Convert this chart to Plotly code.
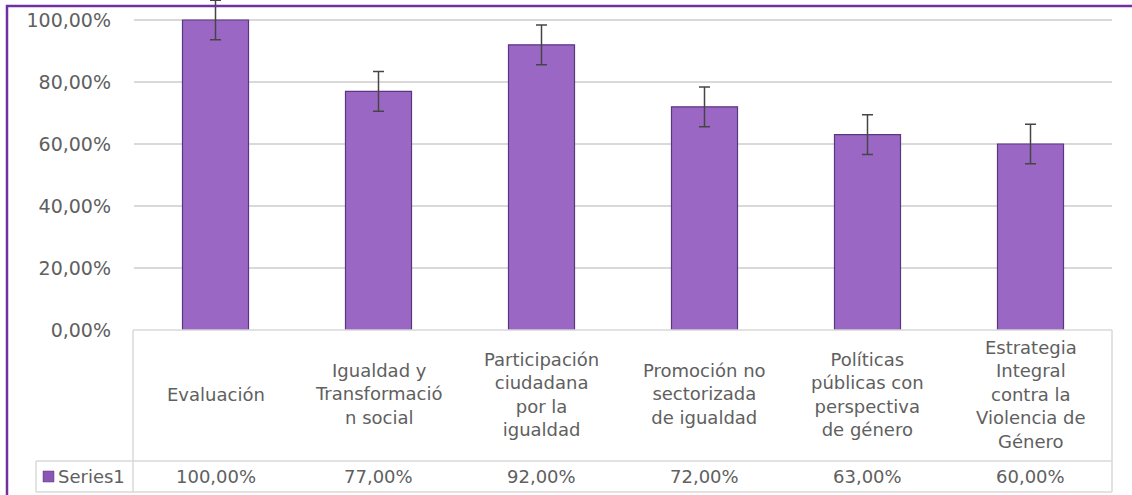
import plotly.graph_objects as go

categories = ["Evaluación", "Igualdad y<br>Transformació<br>n social", "Participación<br>ciudadana<br>por la<br>igualdad",
              "Promoción no<br>sectorizada<br>de igualdad", "Políticas<br>públicas con<br>perspectiva<br>de género",
              "Estrategia<br>Integral<br>contra la<br>Violencia de<br>Género"]
values = [100.0, 77.0, 92.0, 72.0, 63.0, 60.0]
errors = [6.4, 6.4, 6.4, 6.4, 6.4, 6.4]
value_labels = ["100,00%", "77,00%", "92,00%", "72,00%", "63,00%", "60,00%"]
tick_vals = [0, 20, 40, 60, 80, 100]
tick_text = ["0,00%", "20,00%", "40,00%", "60,00%", "80,00%", "100,00%"]
series_name = "Series1"

W, H = 1132, 495
L, R, T, B = 134, 20, 0, 165
pw = W - L - R
ph = H - T - B

def px_x(x):
    return (x - L) / pw

def px_y(y):
    return (H - B - y) / ph

FONT = "DejaVu Sans"
GRAY = "#606060"
LINE = "#d9d9d9"

fig = go.Figure()
fig.add_trace(go.Bar(
    x=list(range(len(values))), y=values, width=0.405,
    marker=dict(color="#9a68c4", line=dict(color="#5a3680", width=1.2)),
    error_y=dict(type="data", array=errors, visible=True, color="#454545", thickness=1.5, width=5.5),
    showlegend=False, hoverinfo="skip",
))

shapes = []
def hline(x0, x1, y):
    shapes.append(dict(type="line", xref="paper", yref="paper", x0=px_x(x0), x1=px_x(x1), y0=px_y(y), y1=px_y(y),
                       line=dict(color=LINE, width=1.5), layer="above"))
def vline(x, y0, y1):
    shapes.append(dict(type="line", xref="paper", yref="paper", x0=px_x(x), x1=px_x(x), y0=px_y(y0), y1=px_y(y1),
                       line=dict(color=LINE, width=1.5), layer="above"))

hline(133, 1112, 330)
hline(36, 1112, 461)
hline(36, 1112, 492)
vline(133, 330, 492)
vline(1112, 330, 492)
vline(36, 461, 492)

# purple frame
shapes.append(dict(type="line", xref="paper", yref="paper", x0=px_x(7), x1=px_x(7), y0=px_y(5), y1=px_y(500),
                   line=dict(color="#7030a0", width=2.5)))
shapes.append(dict(type="line", xref="paper", yref="paper", x0=px_x(6), x1=px_x(1140), y0=px_y(6), y1=px_y(6),
                   line=dict(color="#7030a0", width=2.5)))
# legend key square
shapes.append(dict(type="rect", xref="paper", yref="paper", x0=px_x(43), x1=px_x(54), y0=px_y(471), y1=px_y(482),
                   fillcolor="#8a55b3", line=dict(color="#5a3680", width=0.5)))

annotations = []
for i, (c, v) in enumerate(zip(categories, value_labels)):
    annotations.append(dict(x=i, xref="x", y=px_y(394), yref="paper", text=c, showarrow=False,
                            font=dict(family=FONT, size=18, color=GRAY), align="center",
                            xanchor="center", yanchor="middle"))
    annotations.append(dict(x=i, xref="x", y=px_y(477), yref="paper", text=v, showarrow=False,
                            font=dict(family=FONT, size=18, color=GRAY), xanchor="center", yanchor="middle"))
annotations.append(dict(x=px_x(56), xref="paper", y=px_y(477), yref="paper", text=series_name, showarrow=False,
                        font=dict(family=FONT, size=18, color=GRAY), xanchor="left", yanchor="middle"))

fig.update_layout(
    width=W, height=H,
    margin=dict(l=L, r=R, t=T, b=B),
    plot_bgcolor="white", paper_bgcolor="white",
    bargap=0.6,
    hovermode=False,
    xaxis=dict(range=[-0.5, 5.5], showticklabels=False, showgrid=False, zeroline=False, showline=False, ticks=""),
    yaxis=dict(range=[0, 100 + 20 / 3.1], tickvals=tick_vals, ticktext=tick_text,
               tickfont=dict(family=FONT, size=19, color=GRAY), ticklabelstandoff=22,
               showgrid=True, gridcolor=LINE, gridwidth=1.5, zeroline=False, showline=False),
    shapes=shapes, annotations=annotations,
)

fig.write_html("out.html", config={"displayModeBar": False},
               post_script="document.body.style.margin='0';document.body.style.overflow='hidden';")
